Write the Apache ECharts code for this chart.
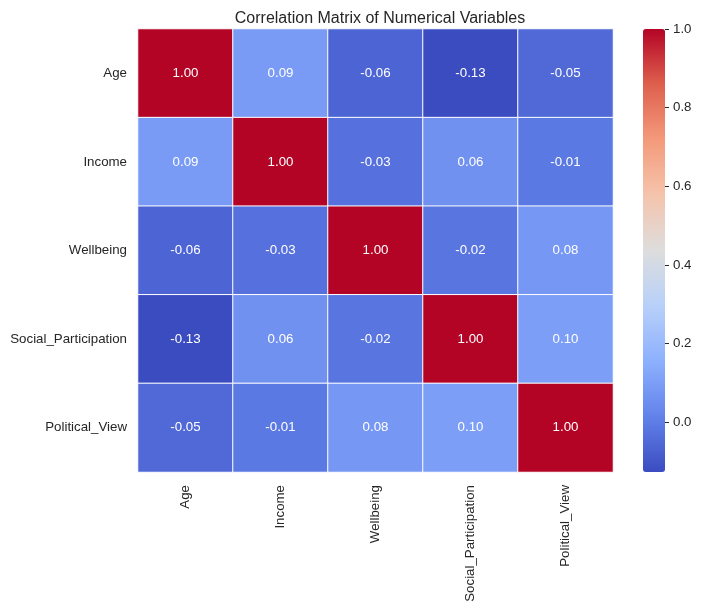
<!DOCTYPE html>
<html>
<head>
<meta charset="utf-8">
<script src="https://cdn.jsdelivr.net/npm/echarts@6/dist/echarts.min.js"></script>
<style>
  html, body { margin: 0; padding: 0; background: #fff; }
  #main { width: 702px; height: 609px; }
</style>
</head>
<body>
<div id="main"></div>
<script>
// variables, same order on both axes
var names = ['Age', 'Income', 'Wellbeing', 'Social_Participation', 'Political_View'];
// correlation rows (as printed in the cells)
var rowAge = [1.00, 0.09, -0.06, -0.13, -0.05];
var rowIncome = [0.09, 1.00, -0.03, 0.06, -0.01];
var rowWellbeing = [-0.06, -0.03, 1.00, -0.02, 0.08];
var rowSocial = [-0.13, 0.06, -0.02, 1.00, 0.10];
var rowPolitical = [-0.05, -0.01, 0.08, 0.10, 1.00];
// colour bar range + ticks
var vMin = -0.126;
var vMax = 1.0;
var barTicks = [0, 0.2, 0.4, 0.6, 0.8, 1.0];
// coolwarm samples
var coolwarm = ['#3b4cc0', '#6282ea', '#8db0fe', '#b8d0f9', '#dddddd', '#f5c4ac', '#f49a7b', '#de604d', '#b40426'];

var rows = [rowAge, rowIncome, rowWellbeing, rowSocial, rowPolitical];
var cells = [];
rows.forEach(function (r, i) {
    r.forEach(function (v, j) {
        cells.push([j, i, v]);
    });
});

var font = '"Liberation Sans", Arial, sans-serif';
var txt = '#262626';

var chart = echarts.init(document.getElementById('main'));
var option = {
    animation: false,
    backgroundColor: '#fff',
    title: {
        text: 'Correlation Matrix of Numerical Variables',
        left: 375, top: 6, textAlign: 'center',
        textStyle: { fontFamily: font, fontSize: 16, fontWeight: 'normal', color: txt }
    },
    grid: [
        { left: 138, top: 29, width: 475, height: 443 },
        { left: 643, top: 29, width: 22, height: 443 }
    ],
    xAxis: [{
        type: 'category', data: names, gridIndex: 0,
        axisLine: { show: false }, axisTick: { show: false }, splitLine: { show: false },
        axisLabel: { rotate: 90, margin: 13, fontFamily: font, fontSize: 13.3, color: txt }
    }, {
        type: 'value', gridIndex: 1, show: false, min: 0, max: 1
    }],
    yAxis: [{
        type: 'category', data: names, gridIndex: 0, inverse: true,
        axisLine: { show: false }, axisTick: { show: false }, splitLine: { show: false },
        axisLabel: { margin: 11, fontFamily: font, fontSize: 13.3, color: txt }
    }, {
        type: 'value', gridIndex: 1, position: 'right', min: vMin, max: vMax, z: 10,
        axisLine: { show: true, onZero: false, lineStyle: { color: 'rgba(0,0,0,0)' } },
        splitLine: { show: false },
        axisTick: {
            show: true, inside: false, length: 4, customValues: barTicks,
            lineStyle: { color: '#262626', width: 1 }
        },
        axisLabel: {
            margin: 8, fontFamily: font, fontSize: 13.3, color: txt, customValues: barTicks,
            formatter: function (v) { return v.toFixed(1); }
        }
    }],
    visualMap: {
        type: 'continuous', min: vMin, max: vMax, seriesIndex: 0, z: 1,
        calculable: false, hoverLink: false, showLabel: false, text: null,
        left: 643, top: 29, padding: 0, itemWidth: 22, itemHeight: 443,
        inRange: { color: coolwarm }
    },
    series: [{
        type: 'heatmap', xAxisIndex: 0, yAxisIndex: 0,
        data: cells,
        itemStyle: { borderColor: '#fff', borderWidth: 1 },
        label: {
            show: true, color: '#fff', fontFamily: font, fontSize: 13.3,
            formatter: function (p) { return p.value[2].toFixed(2); }
        }
    }, {
        type: 'line', xAxisIndex: 1, yAxisIndex: 1, data: [], silent: true
    }]
};
chart.setOption(option);
</script>
</body>
</html>
